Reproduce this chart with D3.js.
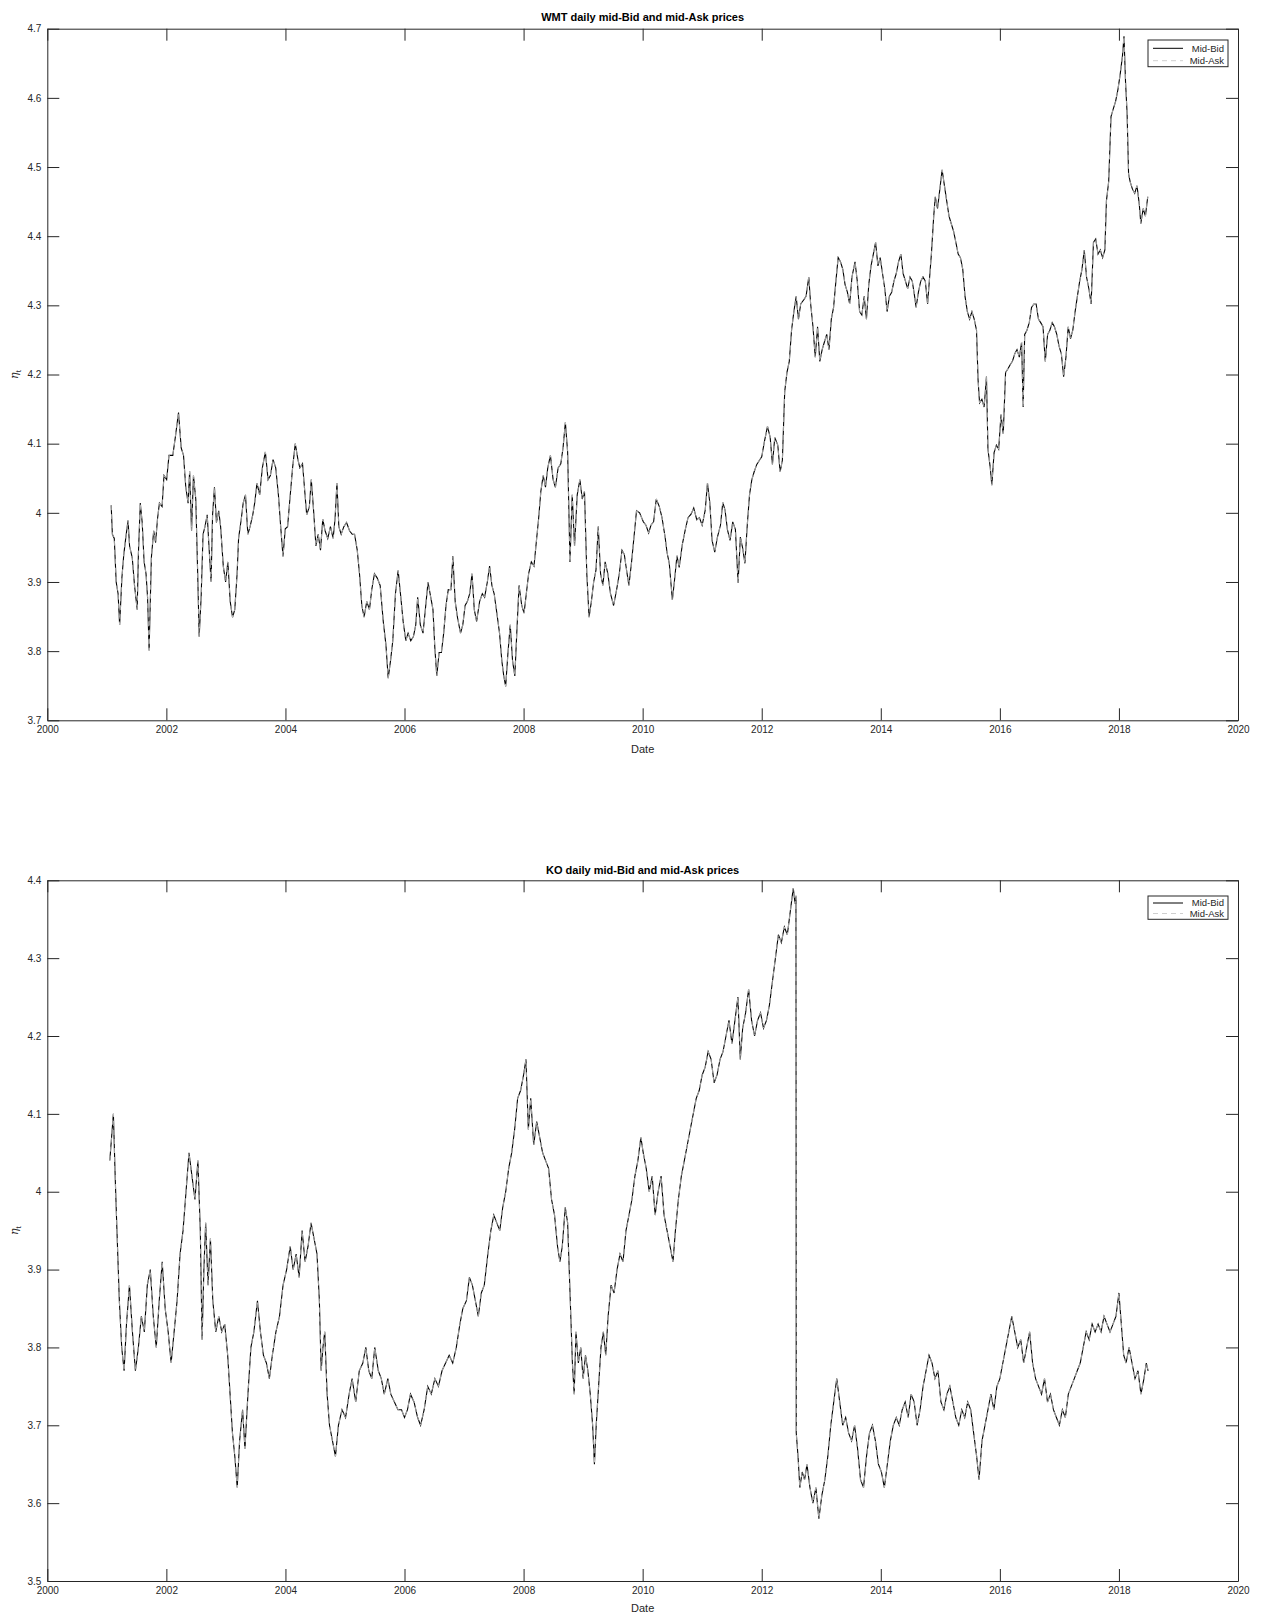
<!DOCTYPE html>
<meta charset="utf-8">
<style>
body { margin: 0; background: #fff; }
text { font-family: "Liberation Sans", Arial, sans-serif; fill: #262626; }
.axis path, .axis line { stroke: #262626; stroke-width: 1; }
.axis text { font-size: 10px; }
.title { font-weight: bold; font-size: 11px; fill: #000; }
.xlabel, .ylabel { font-size: 11px; }
.legend text { font-size: 9.5px; }
</style>
<body>
<script src="https://cdn.jsdelivr.net/npm/d3@7"></script>
<script>
// tick values
var yearTicks = [2000, 2002, 2004, 2006, 2008, 2010, 2012, 2014, 2016, 2018, 2020];
var wmtYTicks = [3.7, 3.8, 3.9, 4.0, 4.1, 4.2, 4.3, 4.4, 4.5, 4.6, 4.7];
var koYTicks = [3.5, 3.6, 3.7, 3.8, 3.9, 4.0, 4.1, 4.2, 4.3, 4.4];
var seriesNames = ["Mid-Bid", "Mid-Ask"];

// WMT log mid-bid, [decimal year, value]
var wmtBid = [
[2001.073,4.011],[2001.093,3.969],[2001.125,3.963],[2001.157,3.900],[2001.189,3.883],[2001.215,3.838],[2001.253,3.906],[2001.285,3.940],[2001.317,3.963],[2001.356,3.989],[2001.382,3.952],[2001.427,3.935],[2001.465,3.895],[2001.510,3.860],[2001.530,3.940],[2001.562,4.014],[2001.594,3.986],[2001.626,3.929],[2001.658,3.912],[2001.684,3.878],[2001.710,3.801],[2001.748,3.935],[2001.787,3.974],[2001.819,3.957],[2001.851,3.991],[2001.883,4.014],[2001.928,4.009],[2001.960,4.054],
[2002.005,4.048],[2002.044,4.083],[2002.108,4.083],[2002.153,4.111],[2002.204,4.145],[2002.249,4.094],[2002.288,4.083],[2002.326,4.037],[2002.365,4.014],[2002.391,4.060],[2002.423,3.974],[2002.455,4.054],[2002.494,4.020],[2002.526,3.912],[2002.551,3.821],[2002.584,3.878],[2002.616,3.969],[2002.648,3.980],[2002.686,3.997],[2002.712,3.957],[2002.751,3.900],[2002.776,3.997],[2002.808,4.037],[2002.841,3.986],[2002.879,4.003],[2002.911,3.980],[2002.956,3.923],[2002.995,3.900],
[2003.033,3.929],[2003.072,3.872],[2003.111,3.849],[2003.149,3.860],[2003.188,3.912],[2003.213,3.963],[2003.258,3.991],[2003.290,4.014],[2003.329,4.026],[2003.368,3.969],[2003.406,3.980],[2003.451,3.997],[2003.483,4.014],[2003.522,4.043],[2003.567,4.026],[2003.612,4.065],[2003.663,4.088],[2003.708,4.048],[2003.747,4.054],[2003.792,4.077],[2003.837,4.065],[2003.882,4.026],[2003.920,3.980],[2003.959,3.937],[2003.997,3.977],
[2004.036,3.980],[2004.075,4.020],[2004.120,4.065],[2004.165,4.100],[2004.210,4.077],[2004.242,4.065],[2004.287,4.071],[2004.319,4.037],[2004.357,3.997],[2004.402,4.009],[2004.434,4.048],[2004.473,4.003],[2004.512,3.952],[2004.550,3.969],[2004.589,3.946],[2004.627,3.991],[2004.666,3.974],[2004.711,3.963],[2004.756,3.980],[2004.801,3.963],[2004.833,3.991],[2004.865,4.043],[2004.897,3.980],[2004.936,3.969],[2004.981,3.980],
[2005.026,3.986],[2005.077,3.974],[2005.122,3.969],[2005.161,3.969],[2005.206,3.946],[2005.244,3.912],[2005.283,3.866],[2005.321,3.849],[2005.366,3.872],[2005.411,3.860],[2005.450,3.889],[2005.495,3.912],[2005.540,3.906],[2005.591,3.895],[2005.643,3.843],[2005.688,3.809],[2005.726,3.761],[2005.765,3.786],[2005.803,3.815],[2005.848,3.883],[2005.893,3.917],[2005.932,3.883],[2005.977,3.843],
[2006.022,3.815],[2006.060,3.826],[2006.105,3.815],[2006.150,3.821],[2006.189,3.838],[2006.221,3.878],[2006.266,3.838],[2006.311,3.826],[2006.350,3.860],[2006.395,3.900],[2006.440,3.878],[2006.478,3.860],[2006.510,3.804],[2006.542,3.764],[2006.581,3.798],[2006.620,3.798],[2006.658,3.826],[2006.697,3.866],[2006.735,3.889],[2006.780,3.889],[2006.812,3.937],[2006.851,3.872],[2006.889,3.849],[2006.941,3.826],[2006.979,3.838],
[2007.018,3.866],[2007.057,3.872],[2007.095,3.883],[2007.134,3.912],[2007.172,3.860],[2007.211,3.843],[2007.262,3.872],[2007.307,3.883],[2007.346,3.878],[2007.391,3.900],[2007.429,3.923],[2007.468,3.895],[2007.506,3.883],[2007.551,3.855],[2007.596,3.826],[2007.635,3.786],[2007.667,3.764],[2007.699,3.749],[2007.738,3.798],[2007.776,3.838],[2007.815,3.786],[2007.853,3.764],[2007.892,3.838],[2007.924,3.895],[2007.969,3.866],
[2008.008,3.855],[2008.046,3.883],[2008.085,3.912],[2008.130,3.929],[2008.175,3.923],[2008.213,3.957],[2008.252,3.991],[2008.290,4.031],[2008.329,4.054],[2008.368,4.037],[2008.406,4.065],[2008.451,4.083],[2008.496,4.048],[2008.535,4.037],[2008.580,4.065],[2008.625,4.071],[2008.663,4.094],[2008.702,4.131],[2008.740,4.088],[2008.779,3.929],[2008.817,4.026],[2008.856,3.952],[2008.901,4.026],[2008.946,4.048],[2008.985,4.020],
[2009.023,4.031],[2009.062,3.912],[2009.100,3.849],[2009.139,3.872],[2009.177,3.900],[2009.216,3.917],[2009.254,3.980],[2009.293,3.912],[2009.332,3.895],[2009.370,3.929],[2009.415,3.912],[2009.460,3.883],[2009.512,3.866],[2009.563,3.889],[2009.608,3.912],[2009.653,3.946],[2009.692,3.940],[2009.730,3.917],[2009.769,3.895],[2009.814,3.929],[2009.859,3.969],[2009.897,4.003],[2009.949,4.000],
[2010.011,3.987],[2010.056,3.982],[2010.101,3.971],[2010.139,3.982],[2010.184,3.987],[2010.229,4.020],[2010.280,4.009],[2010.325,3.993],[2010.377,3.965],[2010.409,3.943],[2010.447,3.927],[2010.499,3.874],[2010.537,3.904],[2010.576,3.938],[2010.614,3.921],[2010.666,3.954],[2010.717,3.976],[2010.762,3.993],[2010.813,3.998],[2010.858,4.007],[2010.909,3.990],[2010.954,3.993],
[2010.999,3.982],[2011.051,4.004],[2011.089,4.043],[2011.128,4.015],[2011.166,3.960],[2011.211,3.943],[2011.256,3.965],[2011.307,3.982],[2011.346,4.015],[2011.384,4.004],[2011.423,3.976],[2011.468,3.960],[2011.513,3.987],[2011.558,3.976],[2011.603,3.899],[2011.641,3.965],[2011.680,3.949],[2011.718,3.927],[2011.757,3.982],[2011.795,4.026],[2011.834,4.048],[2011.872,4.059],[2011.917,4.070],[2011.962,4.076],
[2012.000,4.081],[2012.045,4.103],[2012.097,4.125],[2012.142,4.109],[2012.180,4.070],[2012.219,4.109],[2012.270,4.098],[2012.309,4.059],[2012.347,4.076],[2012.386,4.175],[2012.424,4.203],[2012.463,4.219],[2012.501,4.264],[2012.540,4.291],[2012.578,4.313],[2012.617,4.280],[2012.655,4.302],[2012.707,4.308],[2012.745,4.313],[2012.790,4.341],[2012.822,4.302],[2012.861,4.269],[2012.899,4.225],[2012.938,4.269],[2012.976,4.219],
[2013.015,4.236],[2013.053,4.247],[2013.092,4.258],[2013.130,4.236],[2013.169,4.280],[2013.207,4.297],[2013.246,4.335],[2013.284,4.369],[2013.323,4.363],[2013.362,4.352],[2013.400,4.330],[2013.439,4.319],[2013.477,4.302],[2013.516,4.341],[2013.567,4.363],[2013.605,4.335],[2013.644,4.291],[2013.682,4.286],[2013.721,4.313],[2013.759,4.280],[2013.798,4.330],[2013.836,4.357],[2013.875,4.374],[2013.913,4.391],[2013.952,4.357],[2013.990,4.369],
[2014.029,4.346],[2014.067,4.324],[2014.106,4.291],[2014.144,4.313],[2014.183,4.319],[2014.221,4.335],[2014.260,4.346],[2014.298,4.363],[2014.337,4.374],[2014.375,4.346],[2014.414,4.335],[2014.452,4.324],[2014.491,4.341],[2014.529,4.335],[2014.568,4.313],[2014.593,4.297],[2014.632,4.319],[2014.671,4.335],[2014.709,4.341],[2014.748,4.335],[2014.786,4.302],[2014.825,4.346],[2014.850,4.374],[2014.889,4.429],[2014.915,4.457],[2014.953,4.440],[2014.992,4.468],
[2015.030,4.496],[2015.069,4.473],[2015.107,4.451],[2015.146,4.429],[2015.184,4.418],[2015.223,4.407],[2015.261,4.391],[2015.300,4.374],[2015.338,4.369],[2015.377,4.352],[2015.415,4.313],[2015.454,4.291],[2015.492,4.280],[2015.531,4.291],[2015.569,4.280],[2015.608,4.264],[2015.634,4.192],[2015.659,4.159],[2015.698,4.164],[2015.736,4.153],[2015.775,4.197],[2015.800,4.092],[2015.839,4.065],[2015.865,4.040],[2015.903,4.087],[2015.942,4.098],[2015.980,4.092],
[2016.019,4.142],[2016.057,4.114],[2016.096,4.203],[2016.134,4.208],[2016.173,4.214],[2016.211,4.219],[2016.250,4.230],[2016.288,4.236],[2016.327,4.225],[2016.365,4.247],[2016.391,4.153],[2016.417,4.258],[2016.455,4.264],[2016.494,4.275],[2016.532,4.297],[2016.571,4.302],[2016.609,4.302],[2016.648,4.280],[2016.686,4.275],[2016.725,4.269],[2016.763,4.219],[2016.802,4.258],[2016.840,4.264],[2016.879,4.275],[2016.917,4.269],[2016.956,4.258],[2016.994,4.241],
[2017.033,4.230],[2017.071,4.197],[2017.110,4.225],[2017.148,4.269],[2017.187,4.252],[2017.225,4.264],[2017.264,4.291],[2017.302,4.313],[2017.341,4.335],[2017.379,4.352],[2017.418,4.380],[2017.456,4.341],[2017.495,4.324],[2017.533,4.302],[2017.572,4.391],[2017.610,4.396],[2017.649,4.374],[2017.687,4.380],[2017.726,4.369],[2017.764,4.380],[2017.790,4.451],[2017.828,4.479],[2017.867,4.573],[2017.905,4.584],[2017.944,4.595],[2017.983,4.612],
[2018.021,4.634],[2018.060,4.661],[2018.085,4.689],[2018.111,4.623],[2018.137,4.578],[2018.162,4.490],[2018.188,4.479],[2018.227,4.468],[2018.265,4.462],[2018.304,4.473],[2018.342,4.446],[2018.368,4.418],[2018.407,4.440],[2018.445,4.429],[2018.484,4.457]
];
// mid-ask is indistinguishable from mid-bid at this scale
var wmtAsk = wmtBid;

// KO log mid-bid, [decimal year, value]
var koBid = [
[2001.05,4.04],[2001.08,4.07],[2001.11,4.10],[2001.14,4.02],[2001.17,3.95],[2001.21,3.86],[2001.25,3.80],[2001.29,3.77],[2001.33,3.83],[2001.38,3.88],[2001.43,3.82],[2001.48,3.77],[2001.53,3.80],[2001.58,3.84],[2001.63,3.82],[2001.68,3.88],[2001.73,3.90],[2001.78,3.84],[2001.83,3.80],[2001.88,3.86],[2001.93,3.91],[2001.98,3.85],
[2002.03,3.82],[2002.08,3.78],[2002.13,3.82],[2002.18,3.86],[2002.23,3.92],[2002.28,3.95],[2002.33,4.00],[2002.38,4.05],[2002.43,4.02],[2002.48,3.99],[2002.53,4.04],[2002.57,3.95],[2002.60,3.81],[2002.63,3.90],[2002.66,3.96],[2002.70,3.88],[2002.74,3.94],[2002.78,3.86],[2002.83,3.82],[2002.88,3.84],[2002.93,3.82],[2002.98,3.83],
[2003.03,3.79],[2003.07,3.74],[2003.11,3.69],[2003.15,3.66],[2003.19,3.62],[2003.23,3.68],[2003.28,3.72],[2003.32,3.67],[2003.37,3.74],[2003.42,3.80],[2003.47,3.82],[2003.53,3.86],[2003.58,3.82],[2003.63,3.79],[2003.68,3.78],[2003.73,3.76],[2003.78,3.79],[2003.84,3.82],[2003.90,3.84],[2003.96,3.88],
[2004.02,3.90],[2004.08,3.93],[2004.13,3.90],[2004.18,3.92],[2004.23,3.89],[2004.28,3.95],[2004.33,3.91],[2004.38,3.93],[2004.43,3.96],[2004.48,3.94],[2004.53,3.92],[2004.57,3.86],[2004.60,3.77],[2004.63,3.80],[2004.66,3.82],[2004.70,3.74],[2004.74,3.70],[2004.79,3.68],[2004.84,3.66],[2004.89,3.70],[2004.95,3.72],
[2005.01,3.71],[2005.07,3.74],[2005.12,3.76],[2005.18,3.73],[2005.24,3.77],[2005.30,3.78],[2005.35,3.80],[2005.40,3.77],[2005.45,3.76],[2005.50,3.80],[2005.56,3.77],[2005.61,3.76],[2005.66,3.74],[2005.72,3.76],[2005.77,3.74],[2005.83,3.73],[2005.89,3.72],[2005.95,3.72],
[2006.00,3.71],[2006.05,3.72],[2006.10,3.74],[2006.16,3.73],[2006.22,3.71],[2006.27,3.70],[2006.33,3.72],[2006.39,3.75],[2006.45,3.74],[2006.51,3.76],[2006.57,3.75],[2006.63,3.77],[2006.69,3.78],[2006.75,3.79],[2006.81,3.78],[2006.87,3.80],[2006.93,3.83],[2006.98,3.85],
[2007.04,3.86],[2007.09,3.89],[2007.14,3.88],[2007.19,3.86],[2007.24,3.84],[2007.29,3.87],[2007.34,3.88],[2007.40,3.92],[2007.45,3.95],[2007.50,3.97],[2007.55,3.96],[2007.60,3.95],[2007.65,3.98],[2007.70,4.00],[2007.75,4.03],[2007.80,4.05],[2007.85,4.08],[2007.90,4.12],[2007.95,4.13],
[2008.00,4.15],[2008.04,4.17],[2008.08,4.08],[2008.12,4.12],[2008.17,4.06],[2008.22,4.09],[2008.27,4.07],[2008.32,4.05],[2008.37,4.04],[2008.42,4.03],[2008.47,3.99],[2008.52,3.97],[2008.57,3.93],[2008.61,3.91],[2008.65,3.93],[2008.70,3.98],[2008.74,3.96],[2008.78,3.87],[2008.82,3.78],[2008.85,3.74],[2008.88,3.82],[2008.92,3.78],[2008.96,3.80],
[2009.00,3.76],[2009.04,3.79],[2009.08,3.77],[2009.12,3.74],[2009.16,3.70],[2009.19,3.65],[2009.22,3.70],[2009.26,3.75],[2009.30,3.80],[2009.34,3.82],[2009.38,3.79],[2009.42,3.84],[2009.47,3.88],[2009.52,3.87],[2009.57,3.90],[2009.62,3.92],[2009.67,3.91],[2009.72,3.95],[2009.77,3.97],[2009.82,3.99],[2009.87,4.02],[2009.92,4.04],[2009.97,4.07],
[2010.01,4.05],[2010.06,4.03],[2010.11,4.00],[2010.16,4.02],[2010.21,3.97],[2010.26,4.00],[2010.31,4.02],[2010.36,3.97],[2010.41,3.95],[2010.46,3.93],[2010.51,3.91],[2010.55,3.95],[2010.60,3.99],[2010.65,4.02],[2010.70,4.04],[2010.75,4.06],[2010.80,4.08],[2010.85,4.10],[2010.90,4.12],[2010.95,4.13],
[2011.00,4.15],[2011.05,4.16],[2011.10,4.18],[2011.15,4.17],[2011.20,4.14],[2011.25,4.15],[2011.30,4.17],[2011.35,4.18],[2011.40,4.20],[2011.45,4.22],[2011.50,4.19],[2011.55,4.22],[2011.60,4.25],[2011.64,4.17],[2011.68,4.21],[2011.73,4.23],[2011.78,4.26],[2011.83,4.22],[2011.88,4.20],[2011.93,4.22],[2011.98,4.23],
[2012.03,4.21],[2012.08,4.22],[2012.13,4.24],[2012.18,4.27],[2012.23,4.30],[2012.28,4.33],[2012.33,4.32],[2012.38,4.34],[2012.43,4.33],[2012.48,4.36],[2012.53,4.39],[2012.56,4.37],[2012.575,4.38],[2012.58,3.69],[2012.61,3.66],[2012.64,3.62],[2012.68,3.64],[2012.72,3.63],[2012.76,3.65],[2012.81,3.62],[2012.86,3.60],[2012.91,3.62],[2012.96,3.58],
[2013.01,3.61],[2013.06,3.63],[2013.11,3.66],[2013.16,3.70],[2013.21,3.73],[2013.26,3.76],[2013.31,3.73],[2013.36,3.70],[2013.41,3.71],[2013.46,3.69],[2013.51,3.68],[2013.56,3.70],[2013.61,3.67],[2013.66,3.63],[2013.71,3.62],[2013.76,3.66],[2013.81,3.69],[2013.86,3.70],[2013.91,3.68],[2013.96,3.65],
[2014.01,3.64],[2014.06,3.62],[2014.11,3.65],[2014.16,3.68],[2014.21,3.70],[2014.26,3.71],[2014.31,3.70],[2014.36,3.72],[2014.41,3.73],[2014.46,3.71],[2014.51,3.74],[2014.56,3.73],[2014.61,3.70],[2014.66,3.72],[2014.71,3.75],[2014.76,3.77],[2014.81,3.79],[2014.86,3.78],[2014.91,3.76],[2014.96,3.77],
[2015.01,3.73],[2015.06,3.72],[2015.11,3.74],[2015.16,3.75],[2015.21,3.73],[2015.26,3.71],[2015.31,3.70],[2015.36,3.72],[2015.41,3.71],[2015.46,3.73],[2015.51,3.72],[2015.56,3.69],[2015.61,3.66],[2015.65,3.63],[2015.70,3.68],[2015.75,3.70],[2015.80,3.72],[2015.85,3.74],[2015.90,3.72],[2015.95,3.75],
[2016.00,3.76],[2016.05,3.78],[2016.10,3.80],[2016.15,3.82],[2016.20,3.84],[2016.25,3.82],[2016.30,3.80],[2016.35,3.81],[2016.40,3.78],[2016.45,3.80],[2016.50,3.82],[2016.55,3.78],[2016.60,3.76],[2016.65,3.75],[2016.70,3.74],[2016.75,3.76],[2016.80,3.73],[2016.85,3.74],[2016.90,3.72],[2016.95,3.71],
[2017.00,3.70],[2017.05,3.72],[2017.10,3.71],[2017.15,3.74],[2017.20,3.75],[2017.25,3.76],[2017.30,3.77],[2017.35,3.78],[2017.40,3.80],[2017.45,3.82],[2017.50,3.81],[2017.55,3.83],[2017.60,3.82],[2017.65,3.83],[2017.70,3.82],[2017.75,3.84],[2017.80,3.83],[2017.85,3.82],[2017.90,3.83],[2017.95,3.84],
[2018.00,3.87],[2018.04,3.83],[2018.08,3.79],[2018.12,3.78],[2018.17,3.80],[2018.22,3.78],[2018.27,3.76],[2018.32,3.77],[2018.37,3.74],[2018.42,3.76],[2018.46,3.78],[2018.49,3.77]
];
var koAsk = koBid;

var width = 1265, height = 1616;
var plotLeft = 47.3, plotRight = 1238;

var svg = d3.select("body").append("svg")
    .attr("width", width)
    .attr("height", height);

var panels = [
  {title: "WMT daily mid-Bid and mid-Ask prices", bid: wmtBid, ask: wmtAsk,
   yTicks: wmtYTicks, top: 28.7, bottom: 720.3, titleY: 20.5, dateY: 753,
   legend: {x: 1148, y: 40, w: 80, h: 26.7, rows: [48.3, 60.7]}},
  {title: "KO daily mid-Bid and mid-Ask prices", bid: koBid, ask: koAsk,
   yTicks: koYTicks, top: 880.3, bottom: 1581, titleY: 874, dateY: 1612,
   legend: {x: 1148, y: 896, w: 80, h: 23.3, rows: [903, 913.5]}}
];

var fmtY = function(d) { return String(+d.toFixed(1)); };

panels.forEach(function(p) {
  var x = d3.scaleLinear().domain([2000, 2020]).range([plotLeft, plotRight]);
  var y = d3.scaleLinear()
      .domain([p.yTicks[0], p.yTicks[p.yTicks.length - 1]])
      .range([p.bottom, p.top]);

  var g = svg.append("g");

  var line = d3.line()
      .x(function(d) { return x(d[0]); })
      .y(function(d) { return y(d[1]); });

  // series: solid black bid, light dashed ask on top
  g.append("path")
      .datum(p.bid)
      .attr("fill", "none")
      .attr("stroke", "#000")
      .attr("stroke-width", 1.1)
      .attr("d", line);
  g.append("path")
      .datum(p.ask)
      .attr("fill", "none")
      .attr("stroke", "#cfcfcf")
      .attr("stroke-width", 0.8)
      .attr("stroke-dasharray", "5,4")
      .attr("d", line);

  // axes (MATLAB style box, inward ticks)
  g.append("g").attr("class", "axis")
      .attr("transform", "translate(0," + p.bottom + ")")
      .call(d3.axisBottom(x).tickValues(yearTicks).tickSizeInner(-12).tickSizeOuter(0)
            .tickPadding(6).tickFormat(d3.format("d")));
  g.append("g").attr("class", "axis")
      .attr("transform", "translate(0," + p.top + ")")
      .call(d3.axisTop(x).tickValues(yearTicks).tickSizeInner(-12).tickSizeOuter(0).tickFormat(""));
  g.append("g").attr("class", "axis")
      .attr("transform", "translate(" + plotLeft + ",0)")
      .call(d3.axisLeft(y).tickValues(p.yTicks).tickSizeInner(-12).tickSizeOuter(0)
            .tickPadding(6).tickFormat(fmtY));
  g.append("g").attr("class", "axis")
      .attr("transform", "translate(" + plotRight + ",0)")
      .call(d3.axisRight(y).tickValues(p.yTicks).tickSizeInner(-12).tickSizeOuter(0).tickFormat(""));

  // title and labels
  g.append("text").attr("class", "title")
      .attr("x", (plotLeft + plotRight) / 2).attr("y", p.titleY)
      .attr("text-anchor", "middle").text(p.title);
  g.append("text").attr("class", "xlabel")
      .attr("x", (plotLeft + plotRight) / 2).attr("y", p.dateY)
      .attr("text-anchor", "middle").text("Date");
  var yl = g.append("text").attr("class", "ylabel")
      .attr("transform", "translate(18," + ((p.top + p.bottom) / 2) + ") rotate(-90)")
      .attr("text-anchor", "middle");
  yl.append("tspan").attr("font-family", "DejaVu Serif").attr("font-style", "italic").text("\u03B7");
  yl.append("tspan").attr("dy", 3).attr("font-size", "8px").text("t");

  // legend
  var lg = g.append("g").attr("class", "legend");
  lg.append("rect")
      .attr("x", p.legend.x).attr("y", p.legend.y)
      .attr("width", p.legend.w).attr("height", p.legend.h)
      .attr("fill", "#fff").attr("stroke", "#262626").attr("stroke-width", 1);
  seriesNames.forEach(function(name, i) {
    var ry = p.legend.rows[i];
    lg.append("line")
        .attr("x1", p.legend.x + 5).attr("x2", p.legend.x + 35)
        .attr("y1", ry).attr("y2", ry)
        .attr("stroke", i === 0 ? "#000" : "#cfcfcf")
        .attr("stroke-dasharray", i === 0 ? null : "5,4");
    lg.append("text")
        .attr("x", p.legend.x + p.legend.w - 4).attr("y", ry + 3.3)
        .attr("text-anchor", "end").text(name);
  });
});
</script>
</body>
